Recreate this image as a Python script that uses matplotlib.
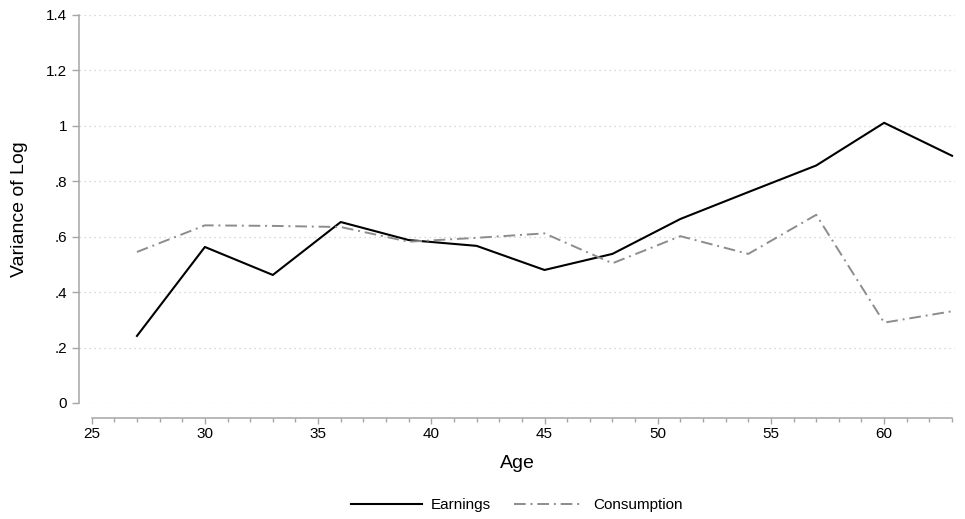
import numpy as np
import matplotlib
matplotlib.use('Agg')
import matplotlib.pyplot as plt
from matplotlib.ticker import MultipleLocator

plt.rcParams['font.family'] = ['Liberation Sans', 'DejaVu Sans']

# values
ages = [27, 30, 33, 36, 39, 42, 45, 48, 51, 54, 57, 60, 63]
earnings = [0.242, 0.563, 0.462, 0.653, 0.588, 0.567, 0.480, 0.538,
            0.664, 0.761, 0.857, 1.011, 0.892]
consumption = [0.545, 0.641, 0.639, 0.635, 0.582, 0.596, 0.612, 0.504,
               0.602, 0.538, 0.679, 0.290, 0.331]
yticks = [0, 0.2, 0.4, 0.6, 0.8, 1.0, 1.2, 1.4]
ylabels = ['0', '.2', '.4', '.6', '.8', '1', '1.2', '1.4']
xticks = [25, 30, 35, 40, 45, 50, 55, 60]

spine_col = '#a6a6a6'

fig = plt.figure(figsize=(9.65, 5.19), dpi=100)
ax = fig.add_axes([79 / 965, 1 - 403 / 519, (955 - 79) / 965, (403 - 15) / 519])

ax.plot(ages, earnings, color='black', lw=1.5, label='Earnings')
ax.plot(ages, consumption, color='#8c8c8c', lw=1.4, dashes=(6, 2.5, 1, 2.5),
        label='Consumption')

ax.set_xlim(24.44, 63.13)
ax.set_ylim(0, 1.4)

ax.set_yticks(yticks)
ax.set_yticklabels(ylabels)
ax.set_xticks(xticks)
ax.xaxis.set_minor_locator(MultipleLocator(1))

for y in yticks:
    ax.axhline(y, color='#cccccc', lw=0.9, ls=(0, (1, 3)), zorder=0)

for s in ['top', 'right']:
    ax.spines[s].set_visible(False)
ax.spines['left'].set_bounds(0, 1.4)
ax.spines['left'].set_color(spine_col)
ax.spines['bottom'].set_bounds(25, 63)
ax.spines['bottom'].set_position(('outward', 11))
ax.spines['bottom'].set_color(spine_col)
for s in ['left', 'bottom']:
    ax.spines[s].set_linewidth(1.1)

ax.tick_params(axis='y', which='major', length=5, width=1.0, color=spine_col,
               labelsize=11, pad=3.5, labelcolor='black')
ax.tick_params(axis='x', which='major', length=4.5, width=1.0, color=spine_col,
               labelsize=11, pad=2, labelcolor='black')
ax.tick_params(axis='x', which='minor', length=3, width=1.0, color=spine_col)

ax.set_xlabel('Age', fontsize=14, labelpad=10)
ax.set_ylabel('Variance of Log', fontsize=14, labelpad=13)

# legend centred under the plot region, not the figure
fig.legend(loc='center', bbox_to_anchor=(517 / 965, 1 - 505 / 519), ncol=2,
           frameon=False, fontsize=11, handlelength=4.6, columnspacing=1.5,
           handletextpad=0.6)

fig.savefig('out.png', dpi=100)
